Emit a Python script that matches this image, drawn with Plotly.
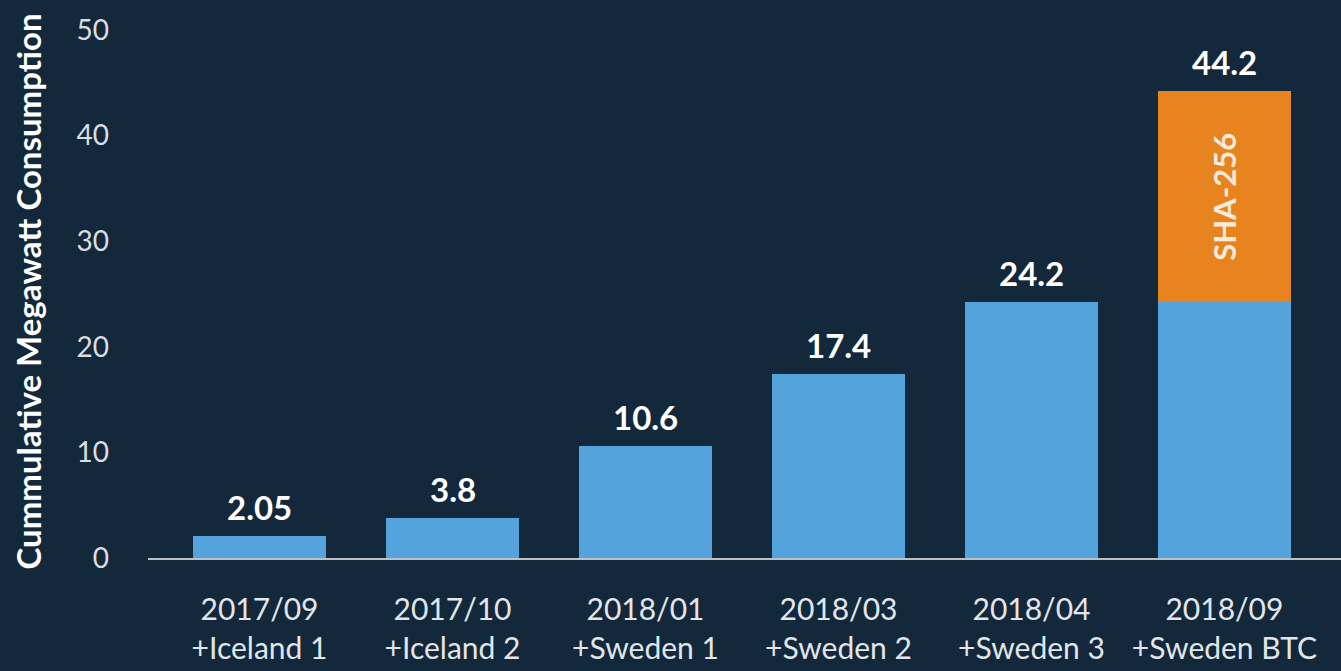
import plotly.graph_objects as go

categories = ["2017/09<br>+Iceland 1", "2017/10<br>+Iceland 2", "2018/01<br>+Sweden 1",
              "2018/03<br>+Sweden 2", "2018/04<br>+Sweden 3", "2018/09<br>+Sweden BTC"]
base_mw = [2.05, 3.8, 10.6, 17.4, 24.2, 24.2]
sha256_mw = [0, 0, 0, 0, 0, 20.0]
total_labels = ["2.05", "3.8", "10.6", "17.4", "24.2", "44.2"]
y_ticks = [0, 10, 20, 30, 40, 50]

BG = "#13283a"
BLUE = "#55a3dc"
ORANGE = "#e8841f"
FONT = "Lato"

totals = [b + s for b, s in zip(base_mw, sha256_mw)]

fig = go.Figure()
fig.add_trace(go.Bar(x=categories, y=base_mw, marker=dict(color=BLUE, line=dict(width=0)),
                     hoverinfo="skip", showlegend=False))
fig.add_trace(go.Bar(x=categories, y=sha256_mw, marker=dict(color=ORANGE, line=dict(width=0)),
                     text=["" if v == 0 else "SHA-256" for v in sha256_mw],
                     textposition="inside", insidetextanchor="middle", textangle=-90,
                     constraintext="none",
                     textfont=dict(family=FONT, size=31, color="#f6eadb", weight="bold"),
                     hoverinfo="skip", showlegend=False))

for c, t, lab in zip(categories, totals, total_labels):
    fig.add_annotation(x=c, y=t, text=lab, showarrow=False, yanchor="bottom", yshift=7,
                       font=dict(family=FONT, size=33, color="#ffffff", weight="bold"))

fig.update_layout(
    barmode="stack",
    bargap=0.31,
    width=1341, height=671,
    paper_bgcolor=BG, plot_bgcolor=BG,
    margin=dict(l=148, r=0, t=25, b=113),
    font=dict(family=FONT, color="#e2e6ea"),
    xaxis=dict(range=[-0.578, 5.604], showline=True, linecolor="#b9c1c7", linewidth=2,
               showgrid=False, zeroline=False, tickfont=dict(size=30, color="#e2e6ea"),
               ticks="", ticklabelstandoff=24),
    yaxis=dict(range=[0, 50.47], tickvals=y_ticks, showgrid=False, zeroline=False,
               showline=False, tickfont=dict(size=28, color="#d9dee2"), ticks="",
               ticklabelstandoff=38,
               title=dict(text="Cummulative Megawatt Consumption", standoff=24,
                          font=dict(family=FONT, size=33, color="#ffffff", weight="bold"))),
)

fig.write_html("out.html", config={"displayModeBar": False},
               post_script="document.body.style.margin='0px';document.body.style.padding='0px';")
